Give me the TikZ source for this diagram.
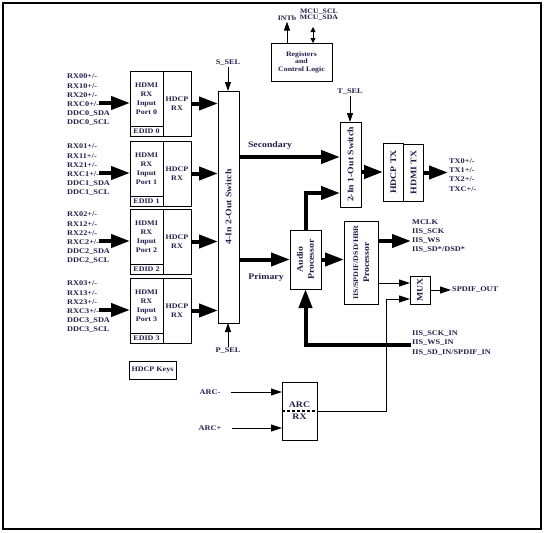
\documentclass[tikz,border=0pt]{standalone}
\usepackage{fontspec}
\setmainfont{Liberation Serif}[FakeStretch=1.15]
\usetikzlibrary{arrows.meta,positioning}
\definecolor{txt}{RGB}{35,30,75}
\newcommand\lblfont{\fontsize{7.2}{9.2}\selectfont\bfseries}
\newcommand\boxfont{\fontsize{7}{9}\selectfont\bfseries}
\newcommand\bigfont{\fontsize{8.5}{11}\selectfont\bfseries}
\newcommand\topfont{\fontsize{6.8}{7.5}\selectfont\bfseries}
\tikzset{
  blk/.style={draw, line width=1pt, inner sep=0pt, outer sep=0pt, anchor=north west},
  lbl/.style={font=\lblfont, text=txt, inner sep=1pt, align=left},
  boxl/.style={font=\boxfont, text=txt, align=center},
  bigl/.style={font=\bigfont, text=txt, inner sep=0pt, align=center},
  topl/.style={font=\topfont, text=txt, inner sep=1pt, align=center},
  bigarrow/.style={line width=4pt, -{Triangle[length=19pt,width=13pt]}},
  thinarrow/.style={line width=0.9pt, -{Triangle[length=11pt,width=7pt]}},
  selarrow/.style={line width=0.9pt, -{Triangle[length=9pt,width=6pt]}},
  dblarrow/.style={line width=0.9pt, {Triangle[length=5pt,width=5pt]}-{Triangle[length=5pt,width=5pt]}}
}
\begin{document}
\begin{tikzpicture}[x=1pt,y=-1pt]
  \useasboundingbox (0,0) rectangle (544,533);
  \draw[line width=1.2pt] (3,3) rectangle (541,529);
  % Four HDMI input ports with EDID and HDCP receivers
  \foreach \i/\y in {0/71,1/141,2/209,3/278} {
    \node[blk, boxl, minimum width=33, minimum height=55] (hdmi\i) at (130,\y) {HDMI\\RX\\Input\\Port \i};
    \node[blk, boxl, minimum width=33, minimum height=10] (edid\i) at (130,\y+55) {EDID \i};
    \node[blk, boxl, minimum width=28, minimum height=65] (hdcp\i) at (163,\y) {HDCP\\RX};
    \node[lbl, anchor=north west] (in\i) at (66,\y+2) {RX0\i+/-\\RX1\i+/-\\RX2\i+/-\\RXC\i+/-\\DDC\i\_SDA\\DDC\i\_SCL};
    \coordinate (rxc\i) at (99,\y+32);
    \draw[bigarrow] (rxc\i) -- (rxc\i -| hdmi\i.west);
  }
  \node[blk, boxl, minimum width=47, minimum height=18] (keys) at (129,361) {HDCP Keys};
  % 4-in 2-out switch
  \node[blk, minimum width=21, minimum height=232] (sw) at (218,91) {};
  \node[bigl, rotate=90] (swlbl) at (sw.center) {4-In 2-Out Switch};
  \foreach \i in {0,...,3}
    \draw[bigarrow] (hdcp\i.east) -- (hdcp\i.east -| sw.west);
  \node[lbl] (ssel) at (228,63) {S\_SEL};
  \draw[selarrow] (ssel.south) -- (ssel.south |- sw.north);
  \node[lbl] (psel) at (228,351) {P\_SEL};
  \draw[selarrow] (psel.north) -- (psel.north |- sw.south);
  % Registers
  \node[blk, topl, minimum width=61, minimum height=38] (reg) at (271,43) {Registers\\and\\Control Logic};
  \node[topl] (intb) at (287,18) {INTb};
  \draw[selarrow] (intb.south |- reg.north) -- (intb.south);
  \node[topl] (mcu) at (319,15) {MCU\_SCL\\[-1.5pt]MCU\_SDA};
  \coordinate (mcuio) at (313,27);
  \draw[dblarrow] (mcuio |- reg.north) -- (mcuio);
  % Secondary path: 2-in 1-out switch and transmitter
  \node[blk, minimum width=21, minimum height=85] (sw21) at (340,122) {};
  \node[bigl, rotate=90] (sw21lbl) at (sw21.center) {2-In 1-Out Switch};
  \node[lbl] (tsel) at (350,92) {T\_SEL};
  \draw[selarrow] (tsel.south) -- (tsel.south |- sw21.north);
  \node[blk, minimum width=20.5, minimum height=58] (hdcptx) at (383,143) {};
  \node[bigl, rotate=90] at (hdcptx.center) {HDCP TX};
  \node[blk, minimum width=20, minimum height=57] (hdmitx) at (403.5,144) {};
  \node[bigl, rotate=90] at (hdmitx.center) {HDMI TX};
  \node[lbl, anchor=west] (txlbl) at (448,175) {TX0+/-\\TX1+/-\\TX2+/-\\TXC+/-};
  \draw[bigarrow] (sw.east |- 0,157) -- (sw21.west |- 0,157);
  \node[bigl] (seclbl) at (270,145) {Secondary};
  \draw[bigarrow] (sw21.east |- hdcptx.west) -- (hdcptx.west);
  \draw[bigarrow] (hdmitx.east) -- (hdmitx.east -| txlbl.west);
  % Primary path: audio processing
  \node[blk, minimum width=31, minimum height=59] (audio) at (290,230) {};
  \node[bigl, rotate=90] (audiolbl) at (audio.center) {Audio\\Processor};
  \node[bigl] (prilbl) at (266,277) {Primary};
  \draw[bigarrow] (sw.east |- audio.west) -- (audio.west);
  \draw[bigarrow] (audio.north) |- (sw21.west |- 0,193);
  \node[blk, minimum width=34.5, minimum height=83] (iis) at (344,221) {};
  \node[boxl, inner sep=0pt, rotate=90, font=\fontsize{7}{11}\selectfont\bfseries] (iislbl) at (iis.center) {IIS/SPDIF/DSD/HBR\\\bigfont Processor};
  \draw[bigarrow] (audio.east) -- (audio.east -| iis.west);
  \node[lbl, anchor=west] (i2slbl) at (411,236) {MCLK\\IIS\_SCK\\IIS\_WS\\IIS\_SD*/DSD*};
  \draw[bigarrow] (iis.east |- 0,241) -- (i2slbl.west |- 0,241);
  \node[blk, minimum width=20, minimum height=28] (mux) at (410,276) {};
  \node[bigl, rotate=90] at (mux.center) {MUX};
  \node[lbl, anchor=west] (spdif) at (451,290) {SPDIF\_OUT};
  \draw[thinarrow] (iis.east |- 0,283) -- (mux.west |- 0,283);
  \draw[thinarrow] (mux.east) -- (spdif.west);
  \node[lbl, anchor=west] (i2sin) at (411,343) {IIS\_SCK\_IN\\IIS\_WS\_IN\\IIS\_SD\_IN/SPDIF\_IN};
  \draw[bigarrow] (i2sin.west |- 0,345) -| (audio.south);
  % ARC receiver
  \node[blk, minimum width=35, minimum height=58] (arc) at (282,382) {};
  \draw[line width=2pt, dash pattern=on 2.5pt off 2.5pt] (arc.west) -- (arc.east);
  \node[bigl, above=3.5pt of arc.center] (arctop) {ARC};
  \node[bigl, below=3pt of arc.center] (arcbot) {RX};
  \node[lbl] (arcm) at (210,392) {ARC-};
  \node[lbl] (arcp) at (210,428) {ARC+};
  \draw[thinarrow, shorten <=9pt] (arcm.east) -- (arcm.east -| arc.west);
  \draw[thinarrow, shorten <=9pt] (arcp.east) -- (arcp.east -| arc.west);
  \draw[thinarrow] (arc.east) -| (386,299) -- (mux.west |- 0,299);
\end{tikzpicture}
\end{document}
